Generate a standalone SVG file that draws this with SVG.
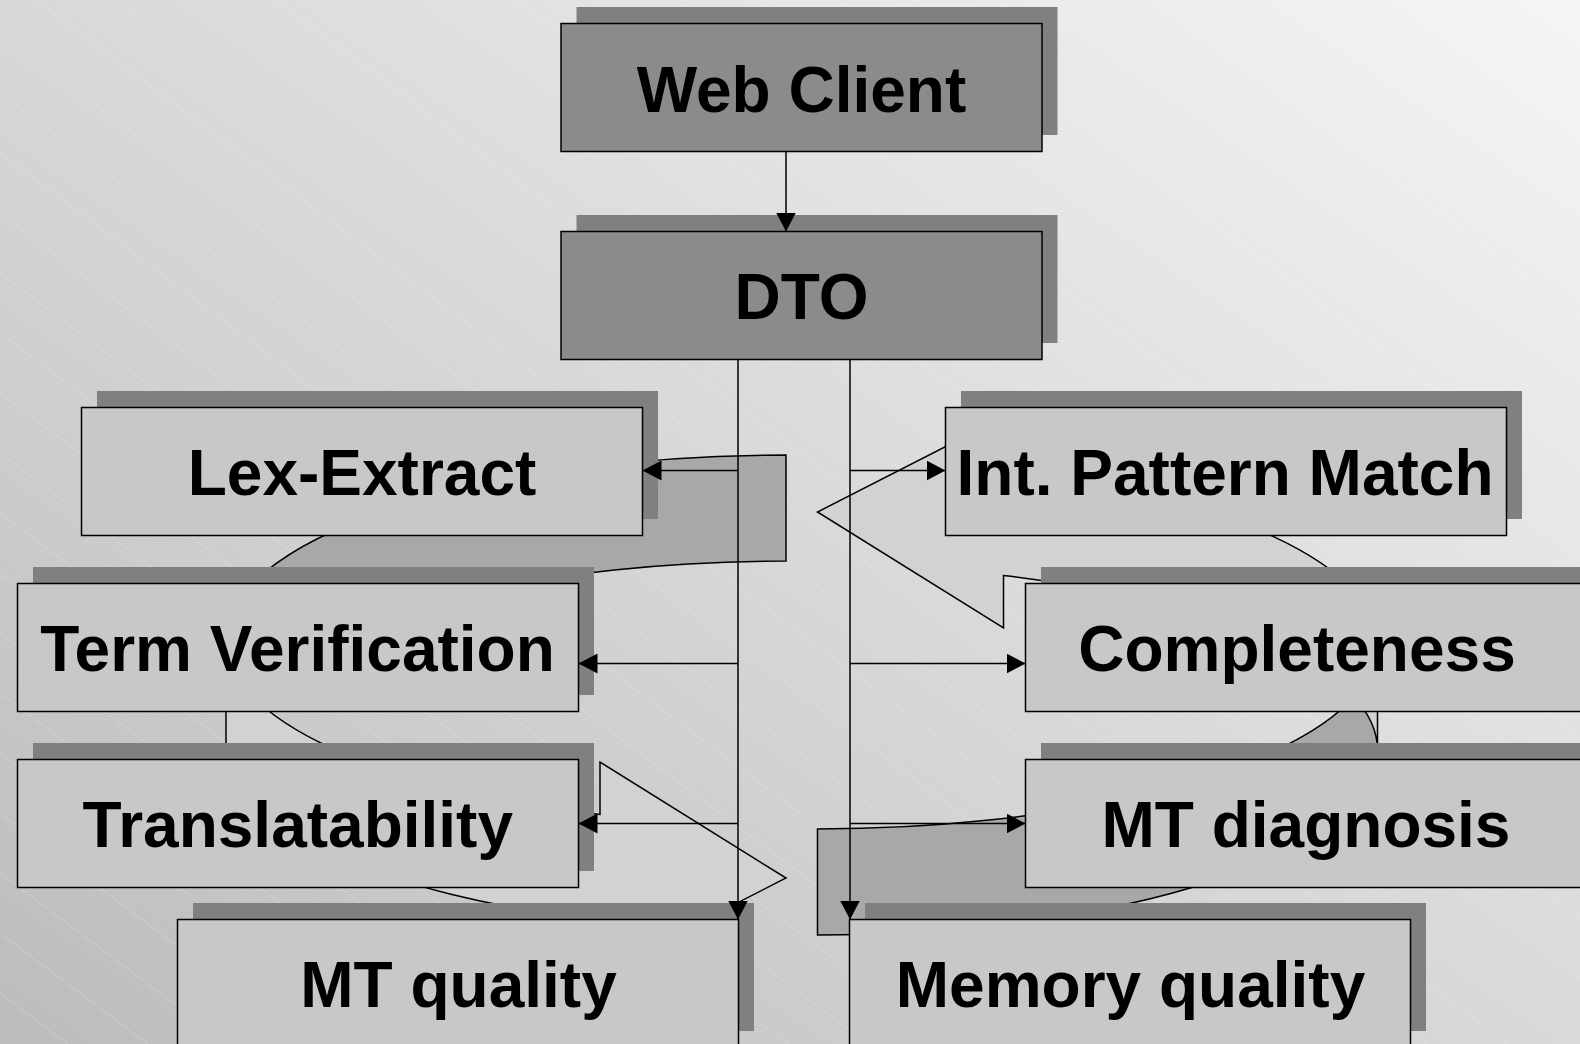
<svg xmlns="http://www.w3.org/2000/svg" width="1580" height="1044" viewBox="0 0 1580 1044">
<defs>
<linearGradient id="bg" gradientUnits="userSpaceOnUse" x1="0" y1="1044" x2="999" y2="-405">
<stop offset="0" stop-color="#bcbcbc"/><stop offset="1" stop-color="#f5f5f5"/>
</linearGradient>
<pattern id="stripes" patternUnits="userSpaceOnUse" x="0" y="33.3" width="80" height="60">
<line x1="-8" y1="-6" x2="88" y2="66" stroke="#ffffff" stroke-opacity="0.22" stroke-width="1"/>
</pattern>
<marker id="ah" viewBox="0 0 19 20" refX="19" refY="10" markerWidth="19" markerHeight="20" markerUnits="userSpaceOnUse" orient="auto"><path d="M0,0 L19,10 L0,20 Z" fill="#000"/></marker>
<g id="curvedArrow">
<path class="front" d="M226,640 A560 185 0 0 0 600,814.5 L600,762 L786,878 L600,973 L600,920.5 A560 185 0 0 1 226,746 Z"/>
<path class="back" d="M786,561 A560 185 0 0 0 249.5,693 A560 185 0 0 1 786,455 Z"/>
<path class="edge" d="M226,640 A560 185 0 0 0 600,814.5 L600,762 L786,878 L600,973 L600,920.5 A560 185 0 0 1 226,746 L226,640 A560 185 0 0 1 786,455 L786,561 A560 185 0 0 0 249.5,693"/>
</g>
</defs>
<style>
.sh{fill:#808080}
.box{fill:#c8c8c8;stroke:#000;stroke-width:1.5}
.top{fill:#8b8b8b;stroke:#000;stroke-width:1.5}
.lbl{font-family:"Liberation Sans",Arial,sans-serif;font-weight:bold;font-size:64px;text-anchor:middle;fill:#000}
.conn{fill:none;stroke:#000;stroke-width:1.5}
.front{fill:#d2d2d2}
.back{fill:#a8a8a8}
.edge{fill:none;stroke:#000;stroke-width:1.5;stroke-linejoin:miter}
</style>
<rect x="0" y="0" width="1580" height="1044" fill="url(#bg)"/>
<rect x="0" y="0" width="1580" height="1044" fill="url(#stripes)"/>

<g id="decor">
<use href="#curvedArrow"/>
<use href="#curvedArrow" transform="rotate(180 801.75 695)"/>
</g>

<g id="node-web-client">
<rect class="sh" x="576.5" y="7" width="481" height="128"/>
<rect class="top" x="561" y="23.5" width="481" height="128"/>
<text class="lbl" x="801.5" y="111.5">Web Client</text>
</g>
<g id="node-dto">
<rect class="sh" x="576.5" y="215" width="481" height="128"/>
<rect class="top" x="561" y="231.5" width="481" height="128"/>
<text class="lbl" x="801.5" y="318.5">DTO</text>
</g>
<g id="node-lex-extract">
<rect class="sh" x="97" y="391" width="561" height="128"/>
<rect class="box" x="81.5" y="407.5" width="561" height="128"/>
<text class="lbl" x="362" y="495">Lex-Extract</text>
</g>
<g id="node-int-pattern-match">
<rect class="sh" x="961" y="391" width="561" height="128"/>
<rect class="box" x="945.5" y="407.5" width="561" height="128"/>
<text class="lbl" x="1225" y="495">Int. Pattern Match</text>
</g>
<g id="node-term-verification">
<rect class="sh" x="33" y="567" width="561" height="128"/>
<rect class="box" x="17.5" y="583.5" width="561" height="128"/>
<text class="lbl" x="297.5" y="670.5">Term Verification</text>
</g>
<g id="node-completeness">
<rect class="sh" x="1041" y="567" width="561" height="128"/>
<rect class="box" x="1025.5" y="583.5" width="561" height="128"/>
<text class="lbl" x="1297" y="670.5">Completeness</text>
</g>
<g id="node-translatability">
<rect class="sh" x="33" y="743" width="561" height="128"/>
<rect class="box" x="17.5" y="759.5" width="561" height="128"/>
<text class="lbl" x="297.8" y="846.5">Translatability</text>
</g>
<g id="node-mt-diagnosis">
<rect class="sh" x="1041" y="743" width="561" height="128"/>
<rect class="box" x="1025.5" y="759.5" width="561" height="128"/>
<text class="lbl" x="1306" y="846.5">MT diagnosis</text>
</g>
<g id="node-mt-quality">
<rect class="sh" x="193" y="903" width="561" height="128"/>
<rect class="box" x="177.5" y="919.5" width="561" height="128"/>
<text class="lbl" x="458.5" y="1006.5">MT quality</text>
</g>
<g id="node-memory-quality">
<rect class="sh" x="865" y="903" width="561" height="128"/>
<rect class="box" x="849.5" y="919.5" width="561" height="128"/>
<text class="lbl" x="1130.5" y="1006.5">Memory quality</text>
</g>

<g id="connectors" class="conn">
<path d="M786,151.5 L786,231.5" marker-end="url(#ah)"/>
<path d="M738,359.5 L738,919.5" marker-end="url(#ah)"/>
<path d="M738,470.5 L642.5,470.5" marker-end="url(#ah)"/>
<path d="M738,663.5 L578.5,663.5" marker-end="url(#ah)"/>
<path d="M738,823.5 L578.5,823.5" marker-end="url(#ah)"/>
<path d="M850,359.5 L850,919.5" marker-end="url(#ah)"/>
<path d="M850,470.5 L945.5,470.5" marker-end="url(#ah)"/>
<path d="M850,663.5 L1025.5,663.5" marker-end="url(#ah)"/>
<path d="M850,823.5 L1025.5,823.5" marker-end="url(#ah)"/>
</g>
</svg>
